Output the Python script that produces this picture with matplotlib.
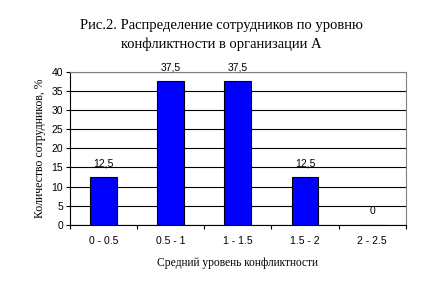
import matplotlib.pyplot as plt
import numpy as np

categories = ["0 - 0.5", "0.5 - 1", "1 - 1.5", "1.5 - 2", "2 - 2.5"]
values = [12.5, 37.5, 37.5, 12.5, 0]
value_labels = ["12,5", "37,5", "37,5", "12,5", "0"]
y_ticks = [0, 5, 10, 15, 20, 25, 30, 35, 40]

serif = "Liberation Serif"
sans = "Liberation Sans"

fig = plt.figure(figsize=(4.21, 2.83), dpi=100)
ax = fig.add_axes([0.166, 0.205, 0.798, 0.542])

x = np.arange(len(categories))
ax.bar(x, values, width=0.4, color="#0000ff", edgecolor="black", linewidth=0.8, zorder=3)

for xi, v, lab in zip(x, values, value_labels):
    ax.annotate(lab, (xi, v), xytext=(0, 10), textcoords="offset points",
                ha="center", va="center", fontsize=7.5, family=sans)

ax.set_xlim(-0.5, len(categories) - 0.5)
ax.set_ylim(0, 40)
ax.set_yticks(y_ticks)
ax.set_yticklabels([str(t) for t in y_ticks], family=sans, fontsize=7.5)
ax.yaxis.grid(True, color="black", linewidth=0.8, zorder=0)

# ticks between categories, labels centred under bars
ax.set_xticks(np.arange(-0.5, len(categories), 1.0))
ax.set_xticklabels([])
ax.set_xticks(x, minor=True)
ax.set_xticklabels(categories, minor=True, family=sans, fontsize=7.5)
ax.tick_params(axis="x", which="minor", length=0, pad=8)
ax.tick_params(axis="x", which="major", length=3, direction="out")
ax.tick_params(axis="y", length=3, direction="out", pad=2)

for side in ["top", "right"]:
    ax.spines[side].set_color("#808080")
for side in ["left", "bottom"]:
    ax.spines[side].set_color("black")

ax.set_ylabel("Количество сотрудников, %", family=serif, fontsize=8.5, labelpad=4)
ax.set_xlabel("Средний уровень конфликтности", family=serif, fontsize=8.3, labelpad=8)

fig.text(0.525, 0.876, "Рис.2. Распределение сотрудников по уровню\nконфликтности в организации А",
         ha="center", va="center", family=serif, fontsize=10.5, linespacing=1.6)

fig.savefig("out.png", dpi=100)
